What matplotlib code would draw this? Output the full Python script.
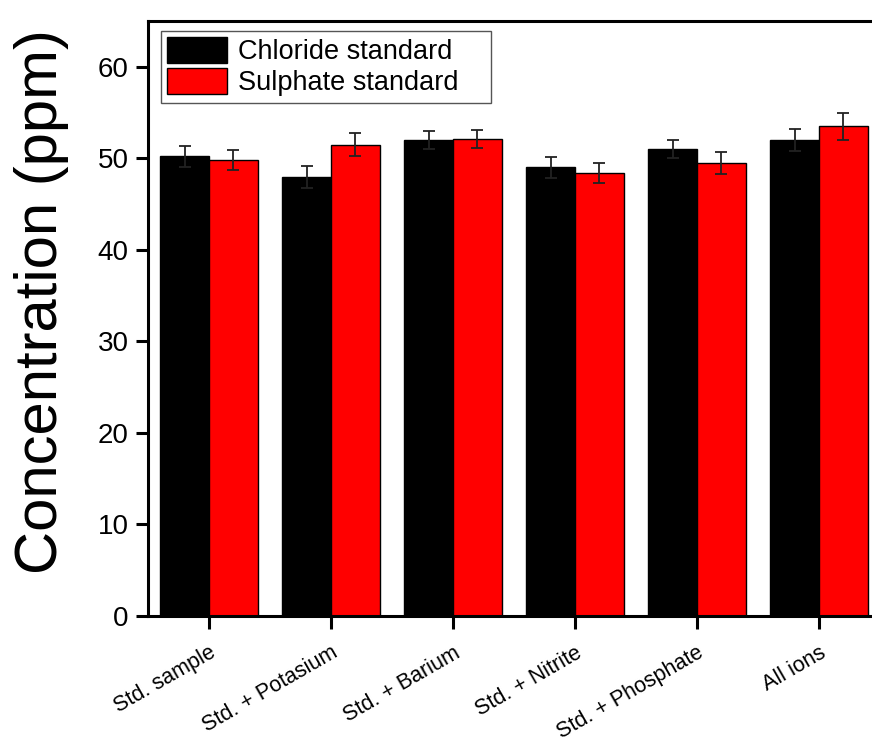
import numpy as np
import matplotlib
matplotlib.use("Agg")
import matplotlib.pyplot as plt
from matplotlib import font_manager

plt.rcParams['font.family'] = ['Liberation Sans', 'DejaVu Sans']

# data
categories = ['Std. sample', 'Std. + Potasium', 'Std. + Barium',
              'Std. + Nitrite', 'Std. + Phosphate', 'All ions']
chloride = [50.2, 48.0, 52.0, 49.0, 51.0, 52.0]
chloride_err = [1.1, 1.2, 1.0, 1.1, 1.0, 1.15]
sulphate = [49.8, 51.5, 52.1, 48.4, 49.5, 53.5]
sulphate_err = [1.1, 1.3, 1.0, 1.1, 1.2, 1.5]
yticks = [0, 10, 20, 30, 40, 50, 60]

# the y label is tall but short in the reference -> narrow face if we have one
names = {f.name for f in font_manager.fontManager.ttflist}
if 'Liberation Sans Narrow' in names:
    ylab_font, ylab_size = 'Liberation Sans Narrow', 52
else:
    ylab_font, ylab_size = 'Liberation Sans', 43

fig = plt.figure(figsize=(8.72, 7.38), dpi=100)
ax = fig.add_axes([148/872, 122/738, 732/872, 595/738])

x = np.arange(len(categories))
w = 0.4
err_kw = dict(ecolor='#222222', elinewidth=1.3, capsize=4.2, capthick=1.3)
ax.bar(x - w/2, chloride, w, yerr=chloride_err, color='black', edgecolor='black',
       linewidth=1, label='Chloride standard', error_kw=err_kw)
ax.bar(x + w/2, sulphate, w, yerr=sulphate_err, color='#ff0000', edgecolor='black',
       linewidth=1, label='Sulphate standard', error_kw=err_kw)

ax.set_xlim(-0.5, 5.5)
ax.set_ylim(0, 65)
ax.set_yticks(yticks)
ax.set_xticks(x)
ax.set_xticklabels(categories, rotation=30, ha='right', va='top',
                   rotation_mode='anchor', fontsize=15.5)
ax.tick_params(axis='y', labelsize=20, width=2.2, length=9, direction='out', pad=5)
ax.tick_params(axis='x', width=2.2, length=9, direction='out', pad=10)
for s in ax.spines.values():
    s.set_linewidth(2.2)

fig.text(42/872, 1 - 302/738, 'Concentration (ppm)', rotation=90,
         ha='center', va='center', fontsize=ylab_size, family=ylab_font)

leg = ax.legend(loc='upper left', bbox_to_anchor=(0.0173, 0.5, 0.451, 0.484),
                mode='expand', borderaxespad=0,
                fontsize=19.5, handlelength=2.2, handleheight=1.1, handletextpad=0.4,
                labelspacing=0.1, borderpad=0.25, fancybox=False, framealpha=1)
leg.get_frame().set_edgecolor('#555555')
leg.get_frame().set_linewidth(1)

fig.savefig('out.png', dpi=100)
